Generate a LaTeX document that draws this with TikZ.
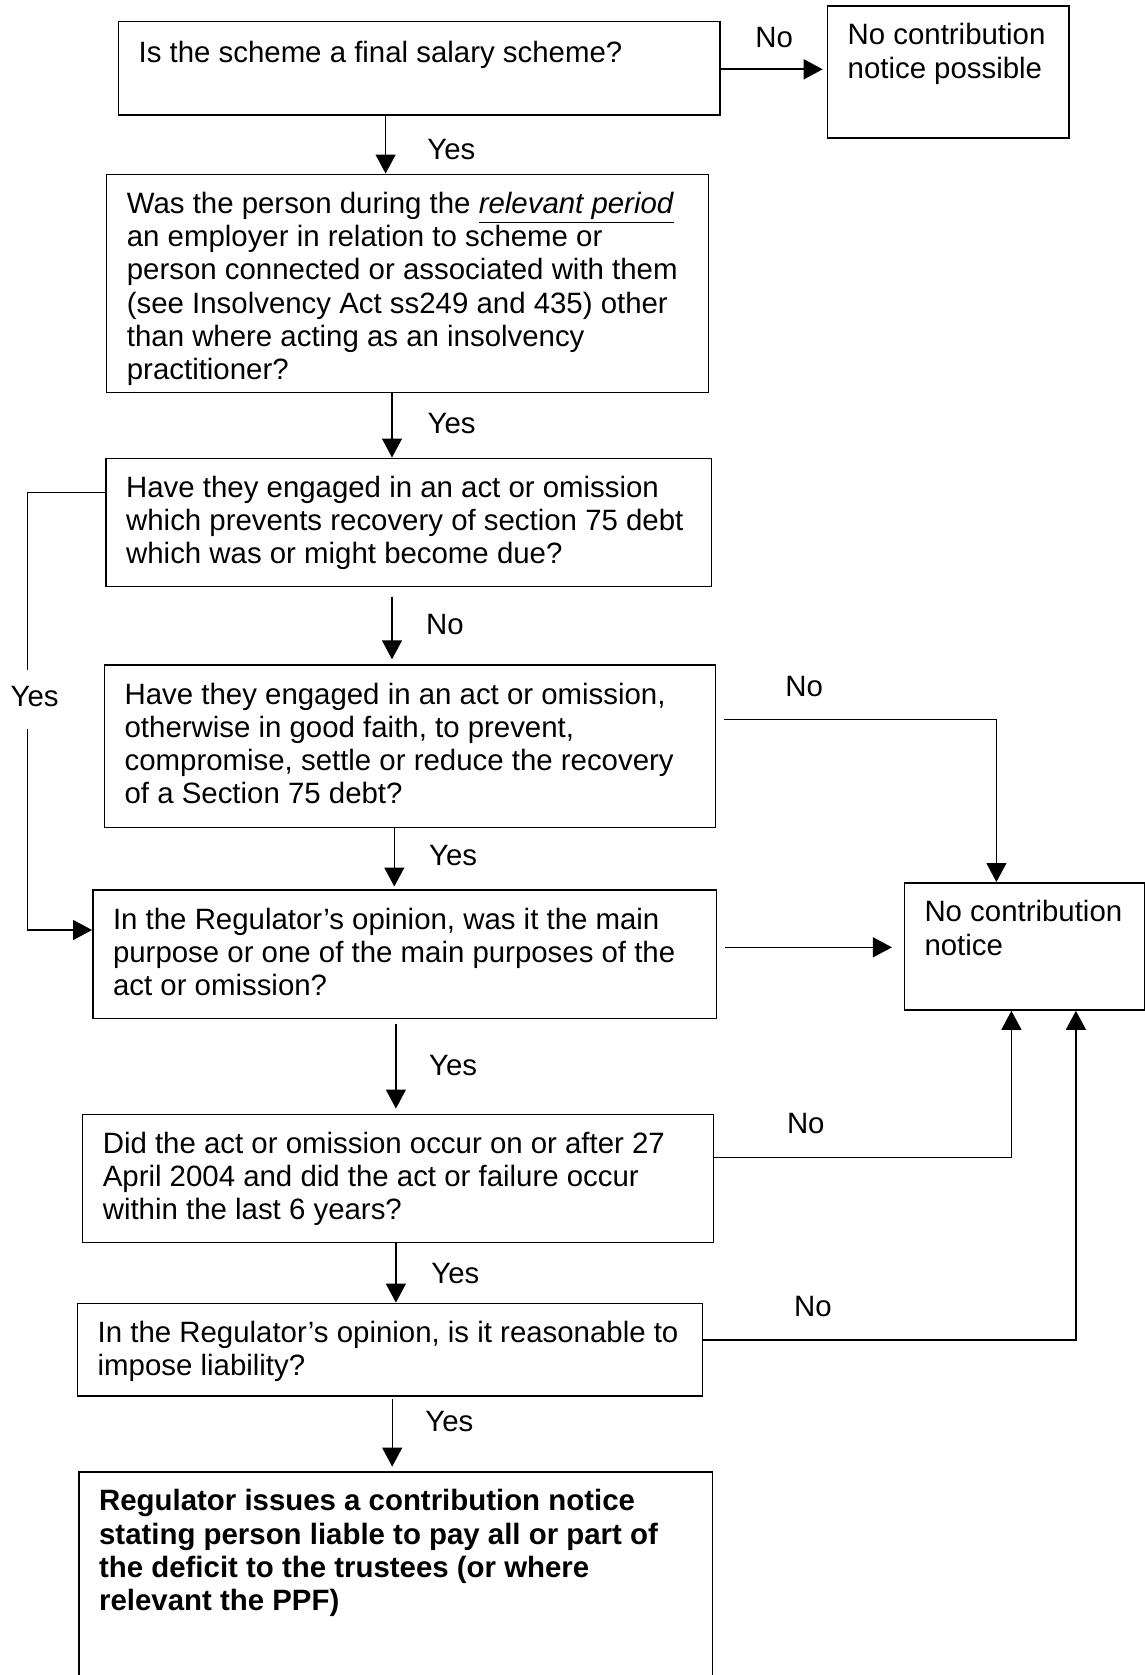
\documentclass[tikz,border=0pt]{standalone}
\usepackage{fontspec}
\setmainfont{Liberation Sans}
\usetikzlibrary{arrows.meta,positioning}
\newcommand{\cnfont}{\fontsize{14.7pt}{16.65pt}\selectfont}
\tikzset{
  cnbox/.style={draw=black, line width=0.75pt},
  cntext/.style={font=\cnfont, align=left, inner sep=0pt, execute at begin node=\strut},
  cnlabel/.style={font=\cnfont, anchor=base west, inner sep=0pt, execute at begin node=\strut},
  cnline/.style={-{Triangle[length=9.5pt,width=10pt]}, line width=0.6pt},
  cnplain/.style={line width=0.6pt}
}
\begin{document}
\begin{tikzpicture}[x=0.5pt, y=-0.5pt]
  \clip (0,0) rectangle (1145,1675);

  \node[cnbox, minimum width=300.85pt, minimum height=46.65pt] (q1) at (419.2,68.4) {};
  \node[cnbox, minimum width=120.8pt, minimum height=66pt] (ncp) at (948.2,72) {};
  \node[cnbox, minimum width=300.85pt, minimum height=109.2pt] (q2) at (407.5,283.5) {};
  \node[cnbox, minimum width=302.7pt, minimum height=64.2pt] (q3) at (408.6,522.5) {};
  \node[cnbox, minimum width=305.6pt, minimum height=81.15pt] (q4) at (410,746.2) {};
  \node[cnbox, minimum width=311.9pt, minimum height=64.15pt] (q5) at (404.7,954.2) {};
  \node[cnbox, minimum width=120.05pt, minimum height=63.65pt] (nc) at (1024.3,946.4) {};
  \node[cnbox, minimum width=315.55pt, minimum height=64pt] (q6) at (398.1,1178.3) {};
  \node[cnbox, minimum width=312.55pt, minimum height=46.35pt] (q7) at (390,1349.7) {};
  \node[cnbox, minimum width=316.9pt, minimum height=124.15pt] (q8) at (395.8,1595.9) {};

  \node[cntext, below right=9pt and 10.3pt of q1.north west] (q1t) {Is the scheme a final salary scheme?};
  \node[cntext, below right=9pt and 10.3pt of ncp.north west] (ncpt) {No contribution\\notice possible};
  \node[cntext, below right=9pt and 10.3pt of q2.north west] (q2t) {Was the person during the \underline{\textit{relevant period}}\\an employer in relation to scheme or\\person connected or associated with them\\(see Insolvency Act ss249 and 435) other\\than where acting as an insolvency\\practitioner?};
  \node[cntext, below right=9pt and 10.3pt of q3.north west] (q3t) {Have they engaged in an act or omission\\which prevents recovery of section 75 debt\\which was or might become due?};
  \node[cntext, below right=9pt and 10.3pt of q4.north west] (q4t) {Have they engaged in an act or omission,\\otherwise in good faith, to prevent,\\compromise, settle or reduce the recovery\\of a Section 75 debt?};
  \node[cntext, below right=9pt and 10.3pt of q5.north west] (q5t) {In the Regulator’s opinion, was it the main\\purpose or one of the main purposes of the\\act or omission?};
  \node[cntext, below right=9pt and 10.3pt of nc.north west] (nct) {No contribution\\notice};
  \node[cntext, below right=9pt and 10.3pt of q6.north west] (q6t) {Did the act or omission occur on or after 27\\April 2004 and did the act or failure occur\\within the last 6 years?};
  \node[cntext, below right=9pt and 10.3pt of q7.north west] (q7t) {In the Regulator’s opinion, is it reasonable to\\impose liability?};
  \node[cntext, font=\cnfont\bfseries, below right=9pt and 10.3pt of q8.north west] (q8t) {Regulator issues a contribution notice\\stating person liable to pay all or part of\\the deficit to the trustees (or where\\relevant the PPF)};

  \node[cnlabel] (lno1) at (755,47.3) {No};
  \node[cnlabel] (lyes1) at (427,159.3) {Yes};
  \node[cnlabel] (lyes2) at (427.2,433.3) {Yes};
  \node[cnlabel] (lno2) at (425.7,634.3) {No};
  \node[cnlabel] (lno3) at (785,696) {No};
  \node[cnlabel, inner ysep=6.3pt] (lyes) at (10.2,706) {Yes};
  \node[cnlabel] (lyes3) at (428.8,865) {Yes};
  \node[cnlabel] (lyes4) at (428.8,1075) {Yes};
  \node[cnlabel] (lno4) at (786.6,1133.3) {No};
  \node[cnlabel] (lyes5) at (431,1283.3) {Yes};
  \node[cnlabel] (lno5) at (793.8,1316.7) {No};
  \node[cnlabel] (lyes6) at (425,1431.7) {Yes};

  \draw[cnline, line width=0.85pt, shorten >=2pt] (q1.east |- 0,69.3) -- (ncp.west |- 0,69.3);
  \draw[cnline] (385.6,0 |- q1.south) -- (385.6,0 |- q2.north);
  \draw[cnline] (392,0 |- q2.south) -- (392,0 |- q3.north);
  \draw[cnline, shorten <=4.6pt, shorten >=2.5pt] (392,0 |- q3.south) -- (392,0 |- q4.north);
  \draw[cnline, shorten >=1.4pt] (394.3,0 |- q4.south) -- (394.3,0 |- q5.north);
  \draw[cnline, shorten <=2.2pt, shorten >=2.5pt] (395.9,0 |- q5.south) -- (395.9,0 |- q6.north);
  \draw[cnline] (395.9,0 |- q6.south) -- (395.9,0 |- q7.north);
  \draw[cnline, shorten <=1.1pt, shorten >=2.2pt] (392.2,0 |- q7.south) -- (392.2,0 |- q8.north);

  \draw[cnplain] (q3.west |- 0,492.3) -| (27.8,0 |- lyes.north);
  \draw[cnline] (27.8,0 |- lyes.south) |- (q5.west |- 0,930);

  \draw[cnline, shorten <=3.7pt] (q4.east |- 0,719.3) -| (996.4,0 |- nc.north);
  \draw[cnline, shorten <=4pt, shorten >=5.8pt] (q5.east |- 0,947.3) -- (nc.west |- 0,947.3);
  \draw[cnline] (q6.east |- 0,1157.7) -| (1011.4,0 |- nc.south);
  \draw[cnline] (q7.east |- 0,1340) -| (1075.9,0 |- nc.south);
\end{tikzpicture}
\end{document}
